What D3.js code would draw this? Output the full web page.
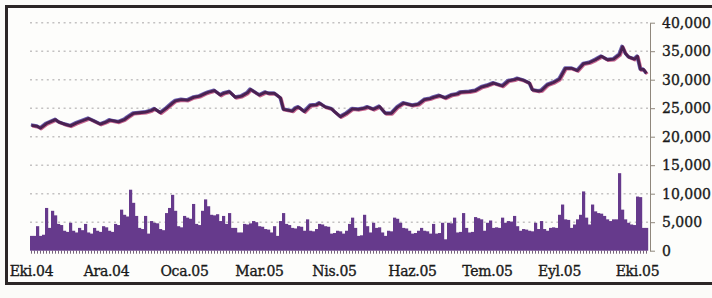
<!DOCTYPE html>
<html>
<head>
<meta charset="utf-8">
<script src="https://cdn.jsdelivr.net/npm/d3@7"></script>
<style>
  html, body { margin: 0; padding: 0; background: #fbfbf8; }
  svg { display: block; }
  text { font-family: 'DejaVu Serif', serif; font-size: 14px; fill: #1a1a1a; stroke: #1a1a1a; stroke-width: 0.35px; }
</style>
</head>
<body>
<script>
// daily volume, thousands (one bar per trading day)
const volume = [
  2.6, 2.6, 4.3, 2.6, 2.8, 7.5, 4.0, 7.0, 6.2, 4.7, 4.5, 3.5, 3.3, 4.9, 3.5, 3.2, 4.0, 3.6, 4.7, 3.2,
  3.0, 4.0, 3.5, 3.3, 4.3, 4.1, 3.5, 3.3, 4.7, 4.5, 7.2, 6.3, 6.0, 10.7, 8.4, 6.1, 4.0, 3.8, 6.1, 3.0,
  5.2, 4.9, 4.8, 3.8, 3.6, 6.6, 7.5, 9.8, 7.0, 4.3, 4.1, 6.1, 5.8, 5.6, 8.2, 4.7, 4.5, 7.0, 9.0, 7.8,
  6.3, 6.2, 6.4, 5.2, 6.1, 4.7, 6.6, 4.0, 4.0, 3.2, 3.2, 4.7, 4.6, 4.8, 5.2, 5.0, 4.3, 4.2, 3.8, 3.7,
  3.2, 4.3, 2.6, 5.2, 6.6, 4.7, 4.5, 4.0, 3.9, 4.3, 4.2, 3.5, 5.5, 3.5, 3.4, 3.8, 4.7, 4.6, 4.3, 4.2,
  3.0, 3.1, 3.5, 3.4, 3.0, 3.5, 4.7, 5.8, 4.0, 2.6, 2.7, 6.3, 4.3, 3.2, 4.9, 4.0, 4.1, 3.2, 2.6, 3.5,
  3.4, 5.8, 5.6, 4.9, 4.0, 3.9, 3.5, 3.0, 3.1, 3.5, 4.0, 3.5, 3.4, 3.0, 4.7, 3.0, 3.1, 4.9, 2.0, 4.9,
  4.8, 5.8, 3.2, 3.3, 6.6, 4.0, 3.2, 3.3, 5.9, 5.7, 5.5, 3.5, 4.9, 5.3, 4.0, 4.1, 4.0, 5.8, 4.9, 5.2,
  5.1, 6.1, 4.3, 3.5, 3.8, 3.7, 3.5, 3.4, 4.9, 3.8, 5.2, 3.8, 3.5, 4.0, 4.1, 4.0, 6.3, 8.1, 5.5, 5.4,
  4.0, 4.6, 5.5, 6.3, 10.4, 5.8, 4.6, 8.1, 6.9, 6.6, 6.5, 6.1, 5.5, 5.2, 5.5, 5.5, 13.6, 7.2, 5.5, 4.9,
  4.6, 4.5, 9.5, 9.4, 4.0, 4.0,
];

// index level, thousands, read at these trading days
const indexDays = [
  0, 2, 3, 5, 8, 9, 11, 13, 15, 17, 19, 21, 23, 25, 26, 27, 29, 31, 32, 34,
  36, 38, 40, 41, 43, 45, 47, 48, 50, 52, 54, 56, 58, 59, 61, 63, 64, 66, 68, 70,
  72, 73, 76, 78, 79, 81, 83, 84, 87, 88, 89, 91, 93, 95, 96, 98, 100, 101, 103, 105,
  107, 109, 111, 112, 114, 116, 118, 120, 122, 124, 127, 129, 131, 133, 134, 136, 138, 140, 142, 143,
  146, 148, 150, 152, 154, 157, 159, 161, 162, 164, 166, 167, 169, 170, 172, 174, 176, 178, 180, 182,
  184, 186, 188, 190, 192, 194, 196, 197, 198, 199, 201, 202, 203, 204, 205,
];
const indexValues = [
  22.0, 21.8, 21.5, 22.3, 23.0, 22.6, 22.2, 21.9, 22.4, 22.8, 23.2, 22.7, 22.2, 22.6, 22.9, 22.8, 22.6, 23.0, 23.4, 24.1,
  24.2, 24.3, 24.6, 24.9, 24.2, 25.0, 25.9, 26.3, 26.5, 26.4, 26.9, 27.1, 27.6, 27.8, 28.1, 27.3, 27.6, 27.9, 26.9, 27.1,
  27.7, 28.3, 27.3, 27.8, 27.6, 27.6, 26.8, 24.8, 24.5, 25.0, 25.2, 24.4, 25.5, 25.6, 25.9, 25.2, 24.9, 24.4, 23.5, 24.1,
  24.9, 24.8, 25.0, 25.2, 24.8, 25.3, 24.1, 24.1, 25.2, 25.9, 25.5, 25.7, 26.5, 26.7, 26.9, 27.2, 26.8, 27.3, 27.5, 27.8,
  27.9, 28.1, 28.7, 29.0, 29.4, 28.9, 29.8, 30.0, 30.2, 29.9, 29.4, 28.2, 28.0, 28.1, 29.1, 29.5, 30.1, 32.0, 32.0, 31.6,
  32.8, 33.0, 33.5, 34.1, 33.5, 33.6, 34.4, 35.8, 34.6, 34.0, 33.6, 34.1, 31.8, 31.8, 31.1,
];

const monthLabels = ['Eki.04', 'Ara.04', 'Oca.05', 'Mar.05', 'Nis.05', 'Haz.05', 'Tem.05', 'Eyl.05', 'Eki.05'];
const monthDays = [0, 25, 51, 76, 101, 127, 152, 176, 202];
const yTicks = [0, 5, 10, 15, 20, 25, 30, 35, 40];

const width = 712;
const height = 298;
const plot = { left: 30, right: 648, top: 22.7, bottom: 250.7 };
const axisX = 650;

function main() {
  const svg = createSvg();
  const [xScale, yScale] = createScales();

  createFrame(svg);
  createGrid(svg, yScale);

  svg
    .append('g')
    .selectAll('rect')
    .data(volume)
    .enter()
    .append('rect')
    .attr('x', (_, i) => xScale(i))
    .attr('y', d => yScale(d))
    .attr('width', xScale.bandwidth() + 0.2)
    .attr('height', d => yScale(0) - yScale(d))
    .attr('fill', '#663a8c');

  const line = d3
    .line()
    .x((_, i) => xScale(indexDays[i]) + xScale.bandwidth() / 2)
    .y(d => yScale(d));

  // print misregistration: red and blue fringes round a dark plum core
  svg.append('path').datum(indexValues).attr('d', line).attr('transform', 'translate(0.7, 0.7)')
    .attr('fill', 'none').attr('stroke', '#c9668f').attr('stroke-width', 3.2).attr('stroke-linejoin', 'round');
  svg.append('path').datum(indexValues).attr('d', line).attr('transform', 'translate(-0.6, -0.5)')
    .attr('fill', 'none').attr('stroke', '#6a5fae').attr('stroke-width', 3.2).attr('stroke-linejoin', 'round');
  svg.append('path').datum(indexValues).attr('d', line)
    .attr('fill', 'none').attr('stroke', '#4a2150').attr('stroke-width', 2.8).attr('stroke-linejoin', 'round');

  createAxes(svg, xScale, yScale);
}

function createSvg() {
  return d3.select('body').append('svg').attr('width', width).attr('height', height);
}

function createScales() {
  const xScale = d3
    .scaleBand()
    .domain(d3.range(volume.length))
    .range([plot.left, plot.right])
    .padding(0);

  const yScale = d3
    .scaleLinear()
    .domain([0, 40])
    .range([plot.bottom, plot.top]);

  return [xScale, yScale];
}

function createFrame(svg) {
  svg
    .append('rect')
    .attr('x', 6.5)
    .attr('y', 6.5)
    .attr('width', 730)
    .attr('height', 277)
    .attr('fill', '#fdfdfb')
    .attr('stroke', '#2b2626')
    .attr('stroke-width', 3);
}

function createGrid(svg, yScale) {
  svg
    .append('g')
    .selectAll('line')
    .data(yTicks.filter(d => d > 0))
    .enter()
    .append('line')
    .attr('x1', plot.left)
    .attr('x2', plot.right)
    .attr('y1', d => yScale(d))
    .attr('y2', d => yScale(d))
    .attr('stroke', '#c4c2c2')
    .attr('stroke-width', 1.6)
    .attr('stroke-dasharray', '2 3.6');
}

function createAxes(svg, xScale, yScale) {
  // little ticks under each bar
  svg
    .append('g')
    .attr('transform', `translate(0, ${plot.bottom})`)
    .call(d3.axisBottom(xScale).tickValues(d3.range(0, volume.length, 1)).tickSize(3).tickFormat(''))
    .call(g => g.select('.domain').remove())
    .call(g => g.selectAll('line').attr('stroke', '#3d2244').attr('opacity', 0.7));

  svg
    .append('g')
    .attr('id', 'x-axis')
    .attr('transform', `translate(0, ${plot.bottom})`)
    .call(d3.axisBottom(xScale).tickValues(monthDays).tickSize(0).tickPadding(15)
      .tickFormat(d => monthLabels[monthDays.indexOf(d)]))
    .call(g => g.select('.domain').remove())
    .call(g => g.selectAll('text').attr('font-size', 14).attr('font-family', null).attr('letter-spacing', '-0.3px'));

  svg
    .append('g')
    .attr('id', 'y-axis')
    .attr('transform', `translate(${axisX}, 0)`)
    .call(d3.axisRight(yScale).tickValues(yTicks).tickSize(5).tickSizeOuter(0).tickPadding(7)
      .tickFormat(d => d3.format(',')(d * 1000)))
    .call(g => g.select('.domain').attr('stroke', '#8f877c'))
    .call(g => g.selectAll('.tick line').attr('stroke', '#8f877c'))
    .call(g => g.selectAll('text').attr('font-size', 14).attr('font-family', null));
}

main();
</script>
</body>
</html>
